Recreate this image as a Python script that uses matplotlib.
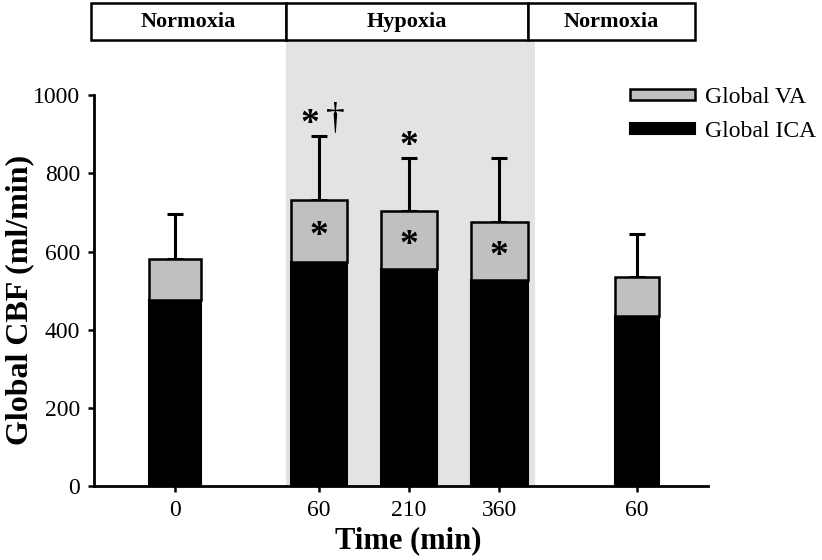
import matplotlib
matplotlib.use('Agg')
import matplotlib.pyplot as plt
from matplotlib.patches import Rectangle
import numpy as np

plt.rcParams['font.family'] = ['Liberation Serif', 'DejaVu Serif']

# values (ml/min)
time_labels = ['0', '60', '210', '360', '60']
global_ica = [476, 574, 555, 527, 435]
global_va = [106, 157, 150, 149, 100]
sd_total = [113, 165, 135, 164, 109]
phase_names = ['Normoxia', 'Hypoxia', 'Normoxia']
star_in_va = [False, True, True, True, False]
star_above = [False, True, True, False, False]
dagger_above = [False, True, False, False, False]

# layout
x = np.array([0, 1.6, 2.6, 3.6, 5.13])
widths = [0.57, 0.63, 0.62, 0.63, 0.49]
phase_edges = [-0.933, 1.233, 3.922, 5.778]
hypoxia_span = (1.233, 4.0)
header_y = (1141, 1235)

fig = plt.figure(figsize=(8.22, 5.6), dpi=100)
ax = fig.add_axes([0.1144, 0.132, 0.747, 0.698])

# shaded hypoxia period
ax.add_patch(Rectangle((hypoxia_span[0], 0), hypoxia_span[1] - hypoxia_span[0], header_y[0],
                       facecolor='#e3e3e3', edgecolor='none', zorder=0, clip_on=False))

# header boxes
for i, name in enumerate(phase_names):
    ax.add_patch(Rectangle((phase_edges[i], header_y[0]), phase_edges[i + 1] - phase_edges[i],
                           header_y[1] - header_y[0], facecolor='white', edgecolor='black',
                           lw=1.8, zorder=3, clip_on=False))
    ax.text((phase_edges[i] + phase_edges[i + 1]) / 2, (header_y[0] + header_y[1]) / 2, name,
            ha='center', va='center', fontsize=16, fontweight='bold', zorder=4)

ica = np.array(global_ica)
va = np.array(global_va)
total = ica + va

b_ica = ax.bar(x, ica, widths, color='black', edgecolor='black', lw=1.5, zorder=2,
               label='Global ICA')
b_va = ax.bar(x, va, widths, bottom=ica, color='#c0c0c0', edgecolor='black', lw=1.8, zorder=2,
              label='Global VA')
ax.errorbar(x, total, yerr=[np.zeros(len(x)), sd_total], fmt='none', ecolor='black',
            elinewidth=2.2, capsize=6, capthick=2.2, zorder=1)

# significance markers
for i in range(len(x)):
    if star_in_va[i]:
        ax.text(x[i], ica[i] + va[i] / 2 - 15, '*', ha='center', va='center', fontsize=27,
                fontweight='bold', zorder=5)
    if star_above[i]:
        dx = -0.1 if dagger_above[i] else 0
        ax.text(x[i] + dx, total[i] + sd_total[i] + 30, '*', ha='center', va='center',
                fontsize=27, fontweight='bold', clip_on=False)
    if dagger_above[i]:
        ax.text(x[i] + 0.18, total[i] + sd_total[i] + 40, '\u2020', ha='center', va='center',
                fontsize=27, clip_on=False)

ax.set_xlim(-0.9, 5.92)
ax.set_ylim(0, 1000)
ax.set_xticks(x)
ax.set_xticklabels(time_labels)
ax.set_yticks(np.arange(0, 1001, 200))
for s in ['top', 'right']:
    ax.spines[s].set_visible(False)
for s in ['left', 'bottom']:
    ax.spines[s].set_linewidth(2)
ax.tick_params(direction='out', length=4, width=1.8, labelsize=17, pad=6)

ax.set_ylabel('Global CBF (ml/min)', fontsize=23, fontweight='bold')
ax.yaxis.set_label_coords(-0.097, 0.476)
ax.set_xlabel('Time (min)', fontsize=22, fontweight='bold')
ax.xaxis.set_label_coords(0.511, -0.102)

ax.legend([b_va, b_ica], ['Global VA', 'Global ICA'], loc='upper left',
          bbox_to_anchor=(630 / 822, 1 - 87 / 560), bbox_transform=fig.transFigure,
          frameon=False, fontsize=17, handlelength=2.75, handleheight=0.36,
          handletextpad=0.42, labelspacing=0.55, borderaxespad=0, borderpad=0)

fig.savefig('out.png', dpi=100)
